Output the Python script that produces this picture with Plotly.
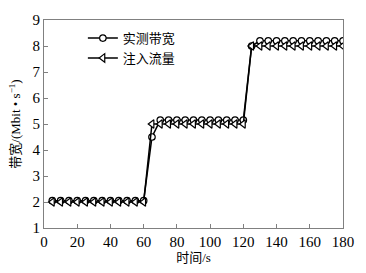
import plotly.graph_objects as go

time_s = [5, 10, 15, 20, 25, 30, 35, 40, 45, 50, 55, 60,
          65, 70, 75, 80, 85, 90, 95, 100, 105, 110, 115, 120,
          125, 130, 135, 140, 145, 150, 155, 160, 165, 170, 175, 180]
measured = [2.05]*12 + [4.5] + [5.15]*11 + [8.0] + [8.2]*11
injected = [2.0]*12 + [5.0]*12 + [8.0]*12

fig = go.Figure()
fig.add_trace(go.Scatter(x=time_s, y=measured, name="实测带宽", mode="lines+markers",
                         line=dict(color="black", width=1.5),
                         marker=dict(symbol="circle", size=6.5, color="white",
                                     line=dict(color="black", width=1.2))))
fig.add_trace(go.Scatter(x=time_s, y=injected, name="注入流量", mode="lines+markers",
                         line=dict(color="black", width=1.5),
                         marker=dict(symbol="triangle-left", size=7.5, color="white",
                                     line=dict(color="black", width=1.2))))

font_serif = "'Liberation Serif', 'Times New Roman', serif"
font_mixed = "'Liberation Serif', 'Noto Sans CJK SC', serif"
axis_common = dict(showline=True, linecolor="#808080", linewidth=1, mirror=True,
                   ticks="inside", ticklen=4, tickcolor="#808080", showgrid=False,
                   zeroline=False, tickfont=dict(family=font_serif, size=15, color="black"))
fig.update_xaxes(range=[0, 180], dtick=20, title=dict(text="时间/s", standoff=2,
                 font=dict(family=font_mixed, size=13, color="black")), **axis_common)
fig.update_yaxes(range=[1, 9], dtick=1, title=dict(text="带宽/(Mbit • s<sup>−1</sup>)", standoff=8,
                 font=dict(family=font_mixed, size=13, color="black")), **axis_common)

fig.update_layout(width=366, height=273, margin=dict(l=44, r=22, t=12, b=44),
                  paper_bgcolor="white", plot_bgcolor="white",
                  font=dict(family=font_serif, color="black"),
                  legend=dict(x=0.13, y=0.985, xanchor="left", yanchor="top",
                              bgcolor="rgba(0,0,0,0)",
                              font=dict(family=font_mixed, size=13),
                              tracegroupgap=0, itemwidth=30))
fig.write_html("out.html", config={"displayModeBar": False},
               post_script="document.body.style.margin='0';")
